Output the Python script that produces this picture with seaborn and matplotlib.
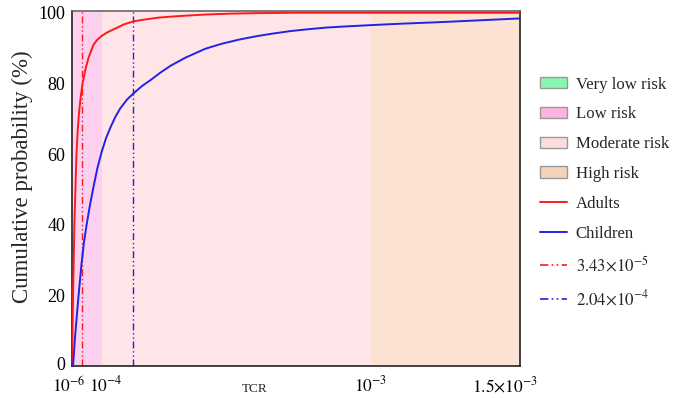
import matplotlib
matplotlib.use("Agg")
import matplotlib.pyplot as plt
import matplotlib.transforms as mtransforms
from matplotlib.patches import Patch
from matplotlib.lines import Line2D
import seaborn as sns
import pandas as pd

# ---- data (TCR values, cumulative probability %) ----
adult_tcr = [0.0, 0.0000035, 0.000008, 0.0000149, 0.000019, 0.0000239, 0.000029,
             0.0000353, 0.000045, 0.0000545, 0.000063, 0.0000715, 0.000085, 0.0001,
             0.000117, 0.000134, 0.000154, 0.0001736, 0.0002076, 0.000245, 0.000287,
             0.00033, 0.000366, 0.000446, 0.00053, 0.00062, 0.00075, 0.0015]
adult_cp = [0, 20, 40, 60, 66.5, 72, 76, 80, 84, 87, 89, 90.9, 92.4, 93.5, 94.4,
            95.1, 95.9, 96.7, 97.6, 98.1, 98.6, 98.9, 99.1, 99.5, 99.75, 99.9, 100, 100]
child_tcr = [0.0000035, 0.00001, 0.0000149, 0.000022, 0.000032, 0.00004, 0.000049,
             0.00006, 0.0000715, 0.000085, 0.0001, 0.000114, 0.000128, 0.000145,
             0.000162, 0.000185, 0.0002076, 0.000235, 0.000264, 0.000295, 0.00033,
             0.00038, 0.000446, 0.0005, 0.000559, 0.00062, 0.000672, 0.00073,
             0.000786, 0.00085, 0.00091, 0.001, 0.0011, 0.00122, 0.00135, 0.0015]
child_cp = [0, 8, 13, 20, 29, 35, 40, 45.5, 50.5, 56, 60.8, 64.5, 67.4, 70.5, 73,
            75.5, 77.3, 79.3, 81, 83, 85, 87.3, 89.8, 91.2, 92.4, 93.4, 94.1, 94.8,
            95.3, 95.8, 96.1, 96.5, 96.9, 97.3, 97.8, 98.4]
risk_bounds = [0.0, 1e-6, 1e-4, 1e-3, 1.5e-3]
risk_labels = ["Very low risk", "Low risk", "Moderate risk", "High risk"]
ref_values = [3.43e-5, 2.04e-4]
ref_labels = [r"$3.43{\times}10^{-5}$", r"$2.04{\times}10^{-4}$"]
xtick_vals = [1e-6, 1e-4, 1e-3, 1.5e-3]
xtick_labels = [r"$10^{-6}$", r"$10^{-4}$", r"$10^{-3}$", r"$1.5{\times}10^{-3}$"]
ytick_vals = [0, 20, 40, 60, 80, 100]

sns.set_theme(style="white")
plt.rcParams["font.family"] = ["Liberation Serif", "DejaVu Serif"]
plt.rcParams["mathtext.fontset"] = "stix"

fig = plt.figure(figsize=(6.73, 3.98), dpi=100)
ax = fig.add_axes([72 / 673, 1 - 366 / 398, (520 - 72) / 673, (366 - 11) / 398])

span_fill = ["#8af5b4", "#fcd0ee", "#ffe5e7", "#fce2d2"]
legend_fill = ["#88f8b0", "#ffb3e0", "#ffdcdc", "#f5d3b8"]
for i in range(4):
    if i == 0:
        ax.axvspan(risk_bounds[i], risk_bounds[i + 1], facecolor=span_fill[i],
                   edgecolor="#3a8a5a", lw=1.2, zorder=0)
    else:
        ax.axvspan(risk_bounds[i], risk_bounds[i + 1], facecolor=span_fill[i],
                   edgecolor="none", zorder=0)

df_a = pd.DataFrame({"TCR": adult_tcr, "cp": adult_cp})
df_c = pd.DataFrame({"TCR": child_tcr, "cp": child_cp})
sns.lineplot(data=df_a, x="TCR", y="cp", color="#ff1a1a", lw=1.4, ax=ax, sort=False, zorder=3)
sns.lineplot(data=df_c, x="TCR", y="cp", color="#2222e6", lw=1.4, ax=ax, sort=False, zorder=3)

dd = (0, (5, 2, 1, 2, 1, 2))
ax.axvline(ref_values[0], color="#ff1a1a", lw=1.0, ls=dd, zorder=2)
ax.axvline(ref_values[1], color="#2222e6", lw=1.0, ls=dd, zorder=2)

ax.set_xlim(0, 1.5e-3)
ax.set_ylim(0, 100.5)
ax.set_xticks(xtick_vals)
ax.set_xticklabels(xtick_labels, fontsize=12.5)
ax.set_yticks(ytick_vals)
ax.set_yticklabels([str(v) for v in ytick_vals], fontsize=13)
ax.tick_params(axis="both", direction="in", length=4, width=1, colors="#333333",
               labelcolor="black")
ax.tick_params(axis="x", pad=7)
ax.tick_params(axis="y", pad=5)
shifts = [-3, 4, 0, -15]
for lab, sh in zip(ax.get_xticklabels(), shifts):
    lab.set_transform(lab.get_transform() + mtransforms.ScaledTranslation(sh / 100, 0, fig.dpi_scale_trans))
ylab0 = ax.get_yticklabels()[0]
ylab0.set_transform(ylab0.get_transform() + mtransforms.ScaledTranslation(0, 3 / 100, fig.dpi_scale_trans))

ax.set_ylabel("Cumulative probability (%)", fontsize=16.5)
ax.set_xlabel("TCR", fontsize=9.5)
ax.xaxis.set_label_coords((255 - 72) / 448, -0.048)
ax.yaxis.set_label_coords(-0.088, 0.532)

for side, s in ax.spines.items():
    s.set_visible(True)
    s.set_linewidth(1.2)
    s.set_color("#222222")
ax.spines["top"].set_color("#666666")

handles = [Patch(facecolor=legend_fill[i], edgecolor="#999999", lw=1, label=risk_labels[i])
           for i in range(4)]
handles += [Line2D([], [], color="#ff1a1a", lw=1.4, label="Adults"),
            Line2D([], [], color="#2222e6", lw=1.4, label="Children"),
            Line2D([], [], color="#ff1a1a", lw=1.2, ls=dd, label=ref_labels[0]),
            Line2D([], [], color="#2222e6", lw=1.2, ls=dd, label=ref_labels[1])]
ax.legend(handles=handles, loc="center left", bbox_to_anchor=(1.029, 0.488), frameon=False,
          fontsize=12.1, labelspacing=0.82, handlelength=1.6, handletextpad=0.55,
          handleheight=0.65, borderaxespad=0)

fig.savefig("out.png", dpi=100)
